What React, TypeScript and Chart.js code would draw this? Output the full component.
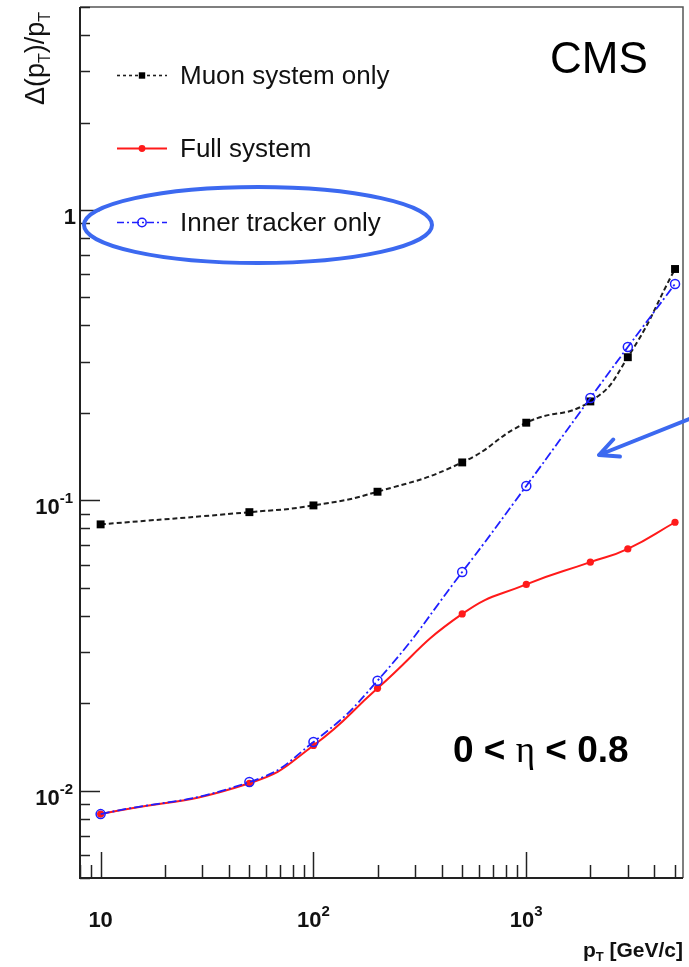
import React, { useEffect, useRef } from "react";
import { Chart, registerables } from "chart.js";

Chart.register(...registerables);

// ---- data ----
const ptValues = [10, 50, 100, 200, 500, 1000, 2000, 3000, 5000];
const muonOnly = [0.0826, 0.091, 0.096, 0.107, 0.135, 0.185, 0.219, 0.311, 0.626];
const fullSystem = [0.0083, 0.0106, 0.0143, 0.0225, 0.0406, 0.0513, 0.0612, 0.068, 0.084];
const innerTracker = [0.0083, 0.0107, 0.0147, 0.0239, 0.0566, 0.112, 0.225, 0.337, 0.556];
const seriesLabels = ["Muon system only", "Full system", "Inner tracker only"];

const xMajorTicks = [10, 100, 1000];
const xTickBase = ["10", "10", "10"];
const xTickExp = ["", "2", "3"];
const yMajorTicks = [1, 0.1, 0.01];
const yTickBase = ["1", "10", "10"];
const yTickExp = ["", "-1", "-2"];
const xRange = [8, 5450];
const yRange = [0.005, 5];

const SANS = "'Liberation Sans', Arial, Helvetica, sans-serif";
const SERIF = "'Liberation Serif', 'DejaVu Serif', serif";
const ANNOT_BLUE = "#3c69f0";

const COLORS = {
  muon: "#1e1e1e",
  full: "#ff1a1a",
  inner: "#1f1fff",
};

function minorValues(min: number, max: number): number[] {
  const out: number[] = [];
  let dec = Math.pow(10, Math.floor(Math.log10(min)));
  while (dec <= max) {
    for (let m = 1; m <= 9; m++) {
      const v = m * dec;
      if (v >= min * 0.999 && v <= max * 1.001) out.push(v);
    }
    dec *= 10;
  }
  return out;
}

function drawMarker(ctx: CanvasRenderingContext2D, kind: string, x: number, y: number) {
  ctx.save();
  ctx.setLineDash([]);
  if (kind === "muon") {
    ctx.fillStyle = "#000";
    ctx.fillRect(x - 3.2, y - 3.2, 6.4, 6.4);
  } else if (kind === "full") {
    ctx.fillStyle = COLORS.full;
    ctx.beginPath();
    ctx.arc(x, y, 3.4, 0, Math.PI * 2);
    ctx.fill();
  } else {
    ctx.strokeStyle = COLORS.inner;
    ctx.lineWidth = 1.5;
    ctx.beginPath();
    ctx.arc(x, y, 4.2, 0, Math.PI * 2);
    ctx.stroke();
  }
  ctx.restore();
}

const decorPlugin = {
  id: "rootDecor",
  afterDraw(chart: any) {
    const ctx: CanvasRenderingContext2D = chart.ctx;
    const { left, right, top, bottom } = chart.chartArea;
    const xs = chart.scales.x;
    const ys = chart.scales.y;
    ctx.save();

    // frame
    ctx.setLineDash([]);
    ctx.strokeStyle = "#555";
    ctx.lineWidth = 1.5;
    ctx.beginPath();
    ctx.moveTo(left, top);
    ctx.lineTo(right, top);
    ctx.lineTo(right, bottom);
    ctx.stroke();
    ctx.strokeStyle = "#222";
    ctx.lineWidth = 2;
    ctx.beginPath();
    ctx.moveTo(left, top);
    ctx.lineTo(left, bottom);
    ctx.lineTo(right, bottom);
    ctx.stroke();

    // x ticks (inside)
    ctx.lineWidth = 1.5;
    ctx.strokeStyle = "#222";
    for (const v of minorValues(xRange[0], xRange[1])) {
      const px = Math.round(xs.getPixelForValue(v)) + 0.5;
      const major = xMajorTicks.includes(v);
      const len = major ? 26 : 13;
      ctx.beginPath();
      ctx.moveTo(px, bottom);
      ctx.lineTo(px, bottom - len);
      ctx.stroke();
    }
    // y ticks (inside)
    for (const v of minorValues(yRange[0], yRange[1])) {
      const py = Math.round(ys.getPixelForValue(v)) + 0.5;
      const major = yMajorTicks.some((m) => Math.abs(m - v) / m < 1e-6);
      const len = major ? 20 : 10;
      ctx.beginPath();
      ctx.moveTo(left, py);
      ctx.lineTo(left + len, py);
      ctx.stroke();
    }

    // tick labels
    ctx.fillStyle = "#111";
    ctx.textBaseline = "alphabetic";
    const baseFont = `bold 22px ${SANS}`;
    const supFont = `bold 15px ${SANS}`;
    xMajorTicks.forEach((v, i) => {
      const px = xs.getPixelForValue(v);
      ctx.font = baseFont;
      const wb = ctx.measureText(xTickBase[i]).width;
      ctx.font = supFont;
      const we = xTickExp[i] ? ctx.measureText(xTickExp[i]).width : 0;
      const x0 = px - (wb + we) / 2;
      ctx.font = baseFont;
      ctx.textAlign = "left";
      ctx.fillText(xTickBase[i], x0, 927);
      if (xTickExp[i]) {
        ctx.font = supFont;
        ctx.fillText(xTickExp[i], x0 + wb, 916);
      }
    });
    yMajorTicks.forEach((v, i) => {
      const py = ys.getPixelForValue(v);
      ctx.font = baseFont;
      const wb = ctx.measureText(yTickBase[i]).width;
      ctx.font = supFont;
      const we = yTickExp[i] ? ctx.measureText(yTickExp[i]).width : 0;
      const rightEdge = yTickExp[i] ? 73 : 76;
      const x0 = rightEdge - wb - we;
      ctx.font = baseFont;
      ctx.textAlign = "left";
      ctx.fillText(yTickBase[i], x0, py + 14);
      if (yTickExp[i]) {
        ctx.font = supFont;
        ctx.fillText(yTickExp[i], x0 + wb, py + 3);
      }
    });

    // x title: p_T [GeV/c]
    {
      const mainF = `bold 21px ${SANS}`;
      const subF = `bold 13px ${SANS}`;
      ctx.font = mainF;
      const w1 = ctx.measureText("p").width;
      const w3 = ctx.measureText(" [GeV/c]").width;
      ctx.font = subF;
      const w2 = ctx.measureText("T").width;
      const x0 = 683 - (w1 + w2 + w3);
      const base = 957;
      ctx.font = mainF;
      ctx.fillText("p", x0, base);
      ctx.font = subF;
      ctx.fillText("T", x0 + w1, base + 4);
      ctx.font = mainF;
      ctx.fillText(" [GeV/c]", x0 + w1 + w2, base);
    }

    // y title: Δ(p_T)/p_T rotated
    {
      const mainF = `27px ${SANS}`;
      const subF = `16px ${SANS}`;
      const parts: [string, boolean][] = [["\u0394(p", false], ["T", true], [")/p", false], ["T", true]];
      let total = 0;
      const widths = parts.map(([t, sub]) => {
        ctx.font = sub ? subF : mainF;
        const w = ctx.measureText(t).width;
        total += w;
        return w;
      });
      ctx.save();
      ctx.translate(44, 12 + total);
      ctx.rotate(-Math.PI / 2);
      let cx = 0;
      parts.forEach(([t, sub], i) => {
        ctx.font = sub ? subF : mainF;
        ctx.fillText(t, cx, sub ? 6 : 0);
        cx += widths[i];
      });
      ctx.restore();
    }

    // legend
    const legendRows: [string, number, string][] = [
      ["muon", 75, seriesLabels[0]],
      ["full", 148, seriesLabels[1]],
      ["inner", 222, seriesLabels[2]],
    ];
    legendRows.forEach(([kind, y, label]) => {
      ctx.save();
      ctx.lineWidth = kind === "full" ? 2 : 1.6;
      if (kind === "muon") {
        ctx.strokeStyle = COLORS.muon;
        ctx.setLineDash([3, 3]);
      } else if (kind === "full") {
        ctx.strokeStyle = COLORS.full;
        ctx.setLineDash([]);
      } else {
        ctx.strokeStyle = COLORS.inner;
        ctx.setLineDash([7, 3, 2, 3]);
      }
      ctx.beginPath();
      ctx.moveTo(117, y + 0.5);
      ctx.lineTo(167, y + 0.5);
      ctx.stroke();
      ctx.restore();
      drawMarker(ctx, kind, 142, y + 0.5);
      ctx.font = `26px ${SANS}`;
      ctx.fillStyle = "#111";
      ctx.textAlign = "left";
      ctx.fillText(label, 180, y + 9);
    });

    // CMS
    ctx.font = `44px ${SANS}`;
    ctx.fillStyle = "#000";
    ctx.fillText("CMS", 550, 73);

    // 0 < η < 0.8
    {
      const bf = `bold 37px ${SANS}`;
      const ef = `37px ${SERIF}`;
      let x = 453;
      const base = 762;
      const segs: [string, string][] = [["0 < ", bf], ["\u03b7", ef], [" < 0.8", bf]];
      segs.forEach(([t, f]) => {
        ctx.font = f;
        ctx.fillText(t, x, base);
        x += ctx.measureText(t).width;
      });
    }

    // blue ellipse around legend entry
    ctx.strokeStyle = ANNOT_BLUE;
    ctx.lineWidth = 4;
    ctx.setLineDash([]);
    ctx.beginPath();
    ctx.ellipse(258, 225, 174, 38, 0, 0, Math.PI * 2);
    ctx.stroke();

    // arrow
    const tip = [599, 455];
    const tail = [692, 418];
    ctx.lineCap = "round";
    ctx.beginPath();
    ctx.moveTo(tail[0], tail[1]);
    ctx.lineTo(tip[0], tip[1]);
    const ang = Math.atan2(tail[1] - tip[1], tail[0] - tip[0]);
    const hl = 21;
    for (const d of [-0.45, 0.45]) {
      ctx.moveTo(tip[0], tip[1]);
      ctx.lineTo(tip[0] + hl * Math.cos(ang + d), tip[1] + hl * Math.sin(ang + d));
    }
    ctx.stroke();

    ctx.restore();
  },
};

export default function App() {
  const canvasRef = useRef<HTMLCanvasElement | null>(null);

  useEffect(() => {
    if (!canvasRef.current) return;
    const toPts = (ys: number[]) => ptValues.map((x, i) => ({ x, y: ys[i] }));
    const chart = new Chart(canvasRef.current, {
      type: "line",
      data: {
        datasets: [
          {
            label: seriesLabels[2],
            data: toPts(innerTracker),
            borderColor: COLORS.inner,
            borderWidth: 1.8,
            borderDash: [9, 3, 2, 3],
            pointStyle: "circle",
            pointRadius: 4.5,
            pointBorderWidth: 1.5,
            pointBorderColor: COLORS.inner,
            pointBackgroundColor: "rgba(0,0,0,0)",
            tension: 0.5,
            fill: false,
          },
          {
            label: seriesLabels[1],
            data: toPts(fullSystem),
            borderColor: COLORS.full,
            borderWidth: 2,
            pointStyle: "circle",
            pointRadius: 3.6,
            pointBorderWidth: 0,
            pointBackgroundColor: COLORS.full,
            tension: 0.5,
            fill: false,
          },
          {
            label: seriesLabels[0],
            data: toPts(muonOnly),
            borderColor: COLORS.muon,
            borderWidth: 2,
            borderDash: [5, 3],
            pointStyle: "rect",
            pointRadius: 5.6,
            pointBorderWidth: 0,
            pointBackgroundColor: "#000",
            tension: 0.5,
            fill: false,
          },
        ],
      },
      options: {
        animation: false,
        responsive: true,
        maintainAspectRatio: false,
        devicePixelRatio: 1,
        layout: { padding: { left: 80, top: 7, right: 6, bottom: 89 } },
        plugins: { legend: { display: false }, tooltip: { enabled: false } },
        events: [],
        scales: {
          x: { type: "logarithmic", min: xRange[0], max: xRange[1], display: false },
          y: { type: "logarithmic", min: yRange[0], max: yRange[1], display: false },
        },
      },
      plugins: [decorPlugin],
    } as any);
    return () => chart.destroy();
  }, []);

  return (
    <div style={{ position: "fixed", left: 0, top: 0, width: 689, height: 967, background: "#fff" }}>
      <canvas ref={canvasRef} style={{ display: "block" }} />
    </div>
  );
}
